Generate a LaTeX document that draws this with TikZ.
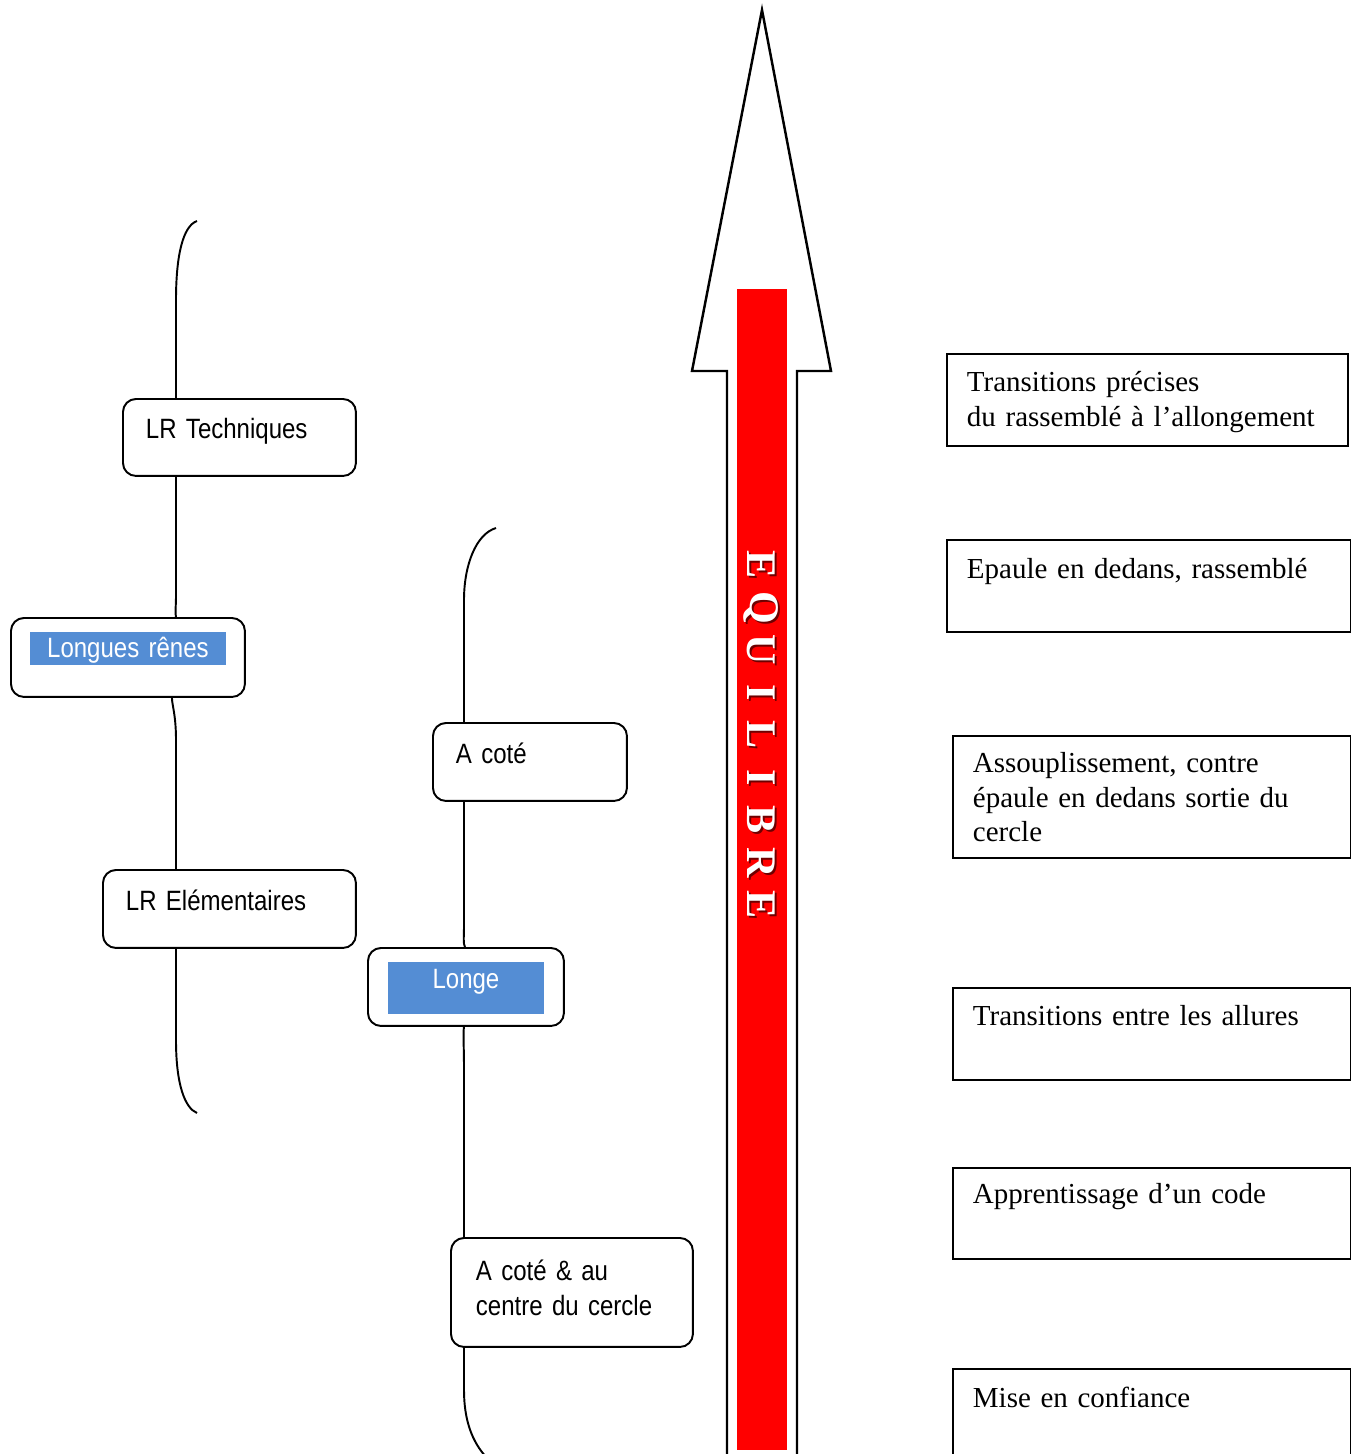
\documentclass[tikz,border=0pt]{standalone}
\usepackage{fontspec}
\setmainfont{Liberation Serif}
\newfontfamily\lrfont[FakeStretch=0.86]{Liberation Sans}
\usetikzlibrary{backgrounds,calc}

\definecolor{hlblue}{RGB}{84,141,212}
\definecolor{eqshadow}{RGB}{110,0,0}

% blue highlighted label: width, height, depth, text
\newcommand{\hlbox}[4]{{\setlength{\fboxsep}{0pt}\colorbox{hlblue}{\makebox[#1][c]{\rule[-#3]{0pt}{\dimexpr#2+#3\relax}\textcolor{white}{#4}}}}}

\tikzset{
  lrbox/.style={draw, fill=white, rounded corners=0.26cm, line width=1.1pt, anchor=north west,
    inner xsep=0.46cm, inner ysep=0pt, align=left, font=\lrfont\fontsize{15.9}{19.4}\selectfont},
  stage/.style={draw, fill=white, line width=1.1pt, anchor=north west,
    inner xsep=0.4cm, inner ysep=0pt, align=left, font=\fontsize{16.5}{19.4}\selectfont},
  brace/.style={draw, line width=1.1pt},
  eqletter/.style={rotate=-90, font=\bfseries\fontsize{24}{24}\selectfont, inner sep=0pt}
}

\begin{document}
\begin{tikzpicture}[x=0.02cm, y=-0.02cm]

	\useasboundingbox (0,0) rectangle (1351,1454);

	% the arrow
	\draw[line width=1.4pt, line join=miter] (727,1460) -- (727,371) -- (692,371) -- (762,10) -- (831,371) -- (797,371) -- (797,1460);
	\fill[red] (737,289) rectangle (787,1450);
	\foreach \l [count=\i] in {E,Q,U,I,L,I,B,R,E} {
		\node[eqletter, text=eqshadow] (eqs\i) at (763, {567+42.5*(\i-1)}) {\l};
		\node[eqletter, text=white] (eq\i) at (761, {565+42.5*(\i-1)}) {\l};
	}

	% long reins
	\node[lrbox, text width=3.74cm, text height=0.80cm, text depth=0.74cm] (lrtech) at (122,398) {LR Techniques};
	\node[lrbox, inner xsep=0.38cm, text width=3.92cm, text height=0.80cm, text depth=0.78cm] (lrenes) at (10,617) {\hlbox{3.92cm}{0.52cm}{0.14cm}{Longues rênes}};
	\node[lrbox, text width=4.14cm, text height=0.82cm, text depth=0.74cm] (lrelem) at (102,869) {LR Elémentaires};

	% lunge
	\node[lrbox, text width=2.96cm, text height=0.82cm, text depth=0.74cm] (acote) at (432,722) {A coté};
	\node[lrbox, inner xsep=0.40cm, text width=3.12cm, text height=0.82cm, text depth=0.74cm] (longe) at (367,947) {\hlbox{3.12cm}{0.54cm}{0.50cm}{Longe}};
	\node[lrbox, inner xsep=0.5cm, text width=3.84cm, text height=0.86cm, text depth=1.32cm] (acentre) at (450,1237) {A coté \& au\\centre du cercle};

	% stages
	\node[stage, text width=7.22cm, text height=0.76cm, text depth=1.08cm] (st6) at (946,353) {Transitions précises\\du rassemblé à l’allongement};
	\node[stage, text width=7.28cm, text height=0.78cm, text depth=1.06cm] (st5) at (946,539) {Epaule en dedans, rassemblé};
	\node[stage, text width=7.16cm, text height=0.74cm, text depth=1.70cm] (st4) at (952,735) {Assouplissement, contre\\épaule en dedans sortie du\\cercle};
	\node[stage, text width=7.16cm, text height=0.76cm, text depth=1.08cm] (st3) at (952,987) {Transitions entre les allures};
	\node[stage, text width=7.16cm, text height=0.72cm, text depth=1.10cm] (st2) at (952,1167) {Apprentissage d’un code};
	\node[stage, text width=7.16cm, text height=0.78cm, text depth=1.40cm] (st1) at (952,1368) {Mise en confiance};

	% braces
	\coordinate (b1top) at (197,221);
	\coordinate (b1bot) at (197,1113);
	\coordinate (b2top) at (496,528);
	\coordinate (b2bot) at (487,1458);

	\begin{scope}[on background layer]
		\path[brace] (b1top) .. controls (183,226) and (176,255) .. (176,300) -- (176,595) .. controls (176,607) and (175,612) .. ($(lrenes.north)+(48,0)$);
		\path[brace] ($(lrenes.south)+(44,0)$) .. controls (172,705) and (176,715) .. (176,740) -- (176,1040) .. controls (176,1085) and (185,1108) .. (b1bot);
		\path[brace] (b2top) .. controls (476,534) and (464,565) .. (464,600) -- (464,925) .. controls (464,938) and (463,943) .. ($(longe.north)+(-1,0)$);
		\path[brace] ($(longe.south)+(-2,0)$) .. controls (463,1035) and (464,1045) .. (464,1070) -- (464,1390) .. controls (464,1420) and (472,1442) .. (b2bot);
	\end{scope}

\end{tikzpicture}
\end{document}
